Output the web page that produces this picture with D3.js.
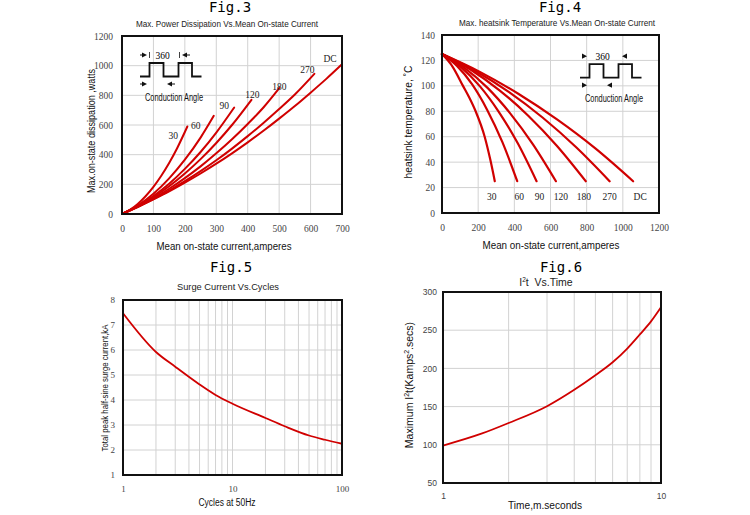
<!DOCTYPE html>
<html>
<head>
<meta charset="utf-8">
<script src="https://cdnjs.cloudflare.com/ajax/libs/d3/7.8.5/d3.min.js"></script>
<style>
  body { margin: 0; background: #fff; }
  svg { display: block; font-family: "Liberation Sans", Arial, sans-serif; }
  .grid line { stroke: #d2d2d2; stroke-width: 1; }
  .axis text { font-family: "Liberation Serif", "Times New Roman", serif; fill: #444; }
  .axis .domain { display: none; }
  .curve { fill: none; stroke: #d00000; stroke-linejoin: round; stroke-linecap: round; }
</style>
</head>
<body>
<script>
// ---- Fig.3 : power dissipation vs mean current
const fig3Angles = ["30", "60", "90", "120", "180", "270", "DC"];
const fig3Current = [
  [0, 25, 50, 75, 100, 125, 150, 175, 208],
  [0, 50, 100, 150, 200, 250, 292],
  [0, 50, 100, 150, 200, 250, 300, 357],
  [0, 50, 100, 150, 200, 250, 300, 350, 412],
  [0, 50, 100, 150, 200, 250, 300, 350, 400, 450, 501],
  [0, 50, 100, 150, 200, 250, 300, 350, 400, 450, 500, 550, 612],
  [0, 50, 100, 150, 200, 250, 300, 350, 400, 450, 500, 550, 600, 650, 700]
];
const fig3Power = [
  [0, 28, 68, 120, 183, 258, 344, 442, 590],
  [0, 57, 136, 240, 366, 515, 662],
  [0, 53, 121, 204, 304, 418, 549, 718],
  [0, 51, 113, 187, 273, 370, 479, 600, 770],
  [0, 49, 105, 170, 242, 321, 409, 504, 607, 718, 850],
  [0, 48, 100, 158, 221, 289, 362, 441, 525, 614, 708, 806, 945],
  [0, 47, 98, 152, 211, 273, 339, 409, 483, 561, 643, 728, 818, 911, 1009]
];
const fig3XTicks = [0, 100, 200, 300, 400, 500, 600, 700];
const fig3YTicks = [0, 200, 400, 600, 800, 1000, 1200];

// ---- Fig.4 : heatsink temperature vs mean current
const fig4Angles = ["30", "60", "90", "120", "180", "270", "DC"];
const fig4Current = [
  [0, 59, 116, 150, 186, 236, 267, 292],
  [0, 83, 167, 250, 334, 416],
  [0, 105, 210, 314, 419, 523],
  [0, 126, 252, 377, 503, 630],
  [0, 159, 318, 477, 636, 795],
  [0, 185, 371, 556, 742, 927],
  [0, 212, 424, 636, 848, 1057]
];
const fig4Temp = [
  [125, 115, 100, 91, 80, 60, 42, 25],
  [125, 115.7, 101.1, 81.1, 55.7, 25],
  [125, 114.8, 99.6, 79.6, 54.8, 25],
  [125, 114, 98.4, 78.4, 54, 25],
  [125, 112.7, 96.5, 76.5, 52.7, 25],
  [125, 111.7, 95.1, 75.1, 51.7, 25],
  [125, 110.8, 93.6, 73.6, 50.8, 25]
];
const fig4XTicks = [0, 200, 400, 600, 800, 1000, 1200];
const fig4YTicks = [0, 20, 40, 60, 80, 100, 120, 140];

// ---- Fig.5 : surge current vs cycles
const fig5Cycles = [1, 2, 3, 5, 7, 10, 20, 30, 50, 70, 100];
const fig5Surge = [7.47, 5.92, 5.33, 4.62, 4.2, 3.85, 3.28, 2.95, 2.58, 2.41, 2.25];
const fig5XTicks = [1, 10, 100];
const fig5YTicks = [1, 2, 3, 4, 5, 6, 7, 8];

// ---- Fig.6 : I2t vs time
const fig6Time = [1, 1.5, 2, 3, 4, 5, 6, 7, 8, 9, 10];
const fig6I2t = [99, 114.5, 128.5, 150.5, 172, 191, 208, 226, 244.5, 261.5, 280];
const fig6XTicks = [1, 10];
const fig6YTicks = [50, 100, 150, 200, 250, 300];

const W = 750, H = 515;
const svg = d3.select("body").append("svg").attr("width", W).attr("height", H);
svg.append("rect").attr("width", W).attr("height", H).attr("fill", "#fff");

function panel(box, x, y, xGrid, yGrid, xTicks, yTicks, opt) {
  const g = svg.append("g");
  // grid
  const grid = g.append("g").attr("class", "grid");
  grid.selectAll(".gx").data(xGrid).enter().append("line")
    .attr("x1", d => x(d)).attr("x2", d => x(d))
    .attr("y1", box.t).attr("y2", box.b);
  grid.selectAll(".gy").data(yGrid).enter().append("line")
    .attr("y1", d => y(d)).attr("y2", d => y(d))
    .attr("x1", box.l).attr("x2", box.r);

  g.append("g").attr("class", "axis")
    .attr("transform", "translate(0," + box.b + ")")
    .call(d3.axisBottom(x).tickValues(xTicks).tickSize(0).tickPadding(opt.xPad).tickFormat(d3.format("d")))
    .selectAll("text").style("font-size", opt.tickSize + "px").style("font-family", opt.tickFont);
  g.append("g").attr("class", "axis")
    .attr("transform", "translate(" + box.l + ",0)")
    .call(d3.axisLeft(y).tickValues(yTicks).tickSize(0).tickPadding(opt.yPad).tickFormat(d3.format("d")))
    .selectAll("text").style("font-size", opt.tickSize + "px").style("font-family", opt.tickFont);
  return g;
}

function frame(g, box) {
  g.append("rect").attr("x", box.l).attr("y", box.t)
    .attr("width", box.r - box.l).attr("height", box.b - box.t)
    .attr("fill", "none").attr("stroke", "#111").attr("stroke-width", 2);
}

function titles(cx, figY, fig, sub, subY, subLen) {
  svg.append("text").attr("x", cx).attr("y", figY).attr("text-anchor", "middle")
    .style("font-family", "'DejaVu Sans Mono', monospace").style("font-size", "14px").text(fig);
  const s = svg.append("text").attr("x", cx - 3).attr("y", subY).attr("text-anchor", "middle")
    .style("font-size", "9px").attr("fill", "#222");
  if (subLen) s.attr("textLength", subLen).attr("lengthAdjust", "spacingAndGlyphs");
  return s;
}

function xLabel(cx, yb, txt, len, size) {
  svg.append("text").attr("x", cx).attr("y", yb).attr("text-anchor", "middle")
    .style("font-size", size + "px").attr("fill", "#111")
    .attr("textLength", len).attr("lengthAdjust", "spacingAndGlyphs").text(txt);
}

function yLabel(xc, cy, len, size) {
  return svg.append("text").attr("transform", "translate(" + xc + "," + cy + ") rotate(-90)")
    .attr("text-anchor", "middle").attr("dy", "0.35em")
    .style("font-size", size + "px").attr("fill", "#111")
    .attr("textLength", len).attr("lengthAdjust", "spacingAndGlyphs");
}

function tri(g, tipX, y, dir) {
  const s = 5;
  g.append("path").attr("d", "M" + tipX + "," + y + "L" + (tipX - dir * s) + "," + (y - 2.6) + "L" + (tipX - dir * s) + "," + (y + 2.6) + "Z")
    .attr("fill", "#111");
}

function inset(x0, base, tails) {
  const g = svg.append("g");
  const e = [0, 9.5, 23.5, 38.5, 52, 61.5], h = 13.5;
  g.append("path").attr("fill", "none").attr("stroke", "#111").attr("stroke-width", 1.8)
    .attr("d", "M" + (x0 + e[0]) + "," + base + "H" + (x0 + e[1]) + "V" + (base - h) + "H" + (x0 + e[2]) + "V" + base +
      "H" + (x0 + e[3]) + "V" + (base - h) + "H" + (x0 + e[4]) + "V" + base + "H" + (x0 + e[5]));
  const ta = base - 21.5, ba = base + 7.5;
  tri(g, x0 + 7, ta, 1); tri(g, x0 + 42, ta, -1);
  tri(g, x0 + 7, ba, 1); tri(g, x0 + 27, ba, -1);
  if (tails) {
    [[x0, x0 + 3, ta], [x0 + 46, x0 + 50, ta], [x0, x0 + 3, ba], [x0 + 31, x0 + 35, ba]].forEach(l =>
      g.append("line").attr("x1", l[0]).attr("x2", l[1]).attr("y1", l[2]).attr("y2", l[2]).attr("stroke", "#111").attr("stroke-width", 1));
    [[x0 + 9.5, ta], [x0 + 39.5, ta]].forEach(l =>
      g.append("line").attr("x1", l[0]).attr("x2", l[0]).attr("y1", l[1] - 3).attr("y2", l[1] + 3).attr("stroke", "#111").attr("stroke-width", 0.8));
  }
  g.append("text").attr("x", x0 + 22.5).attr("y", ta + 3.5).attr("text-anchor", "middle")
    .style("font-family", "'Liberation Serif', serif").style("font-size", "9.5px").text("360");
  g.append("text").attr("x", x0 + 34).attr("y", base + 24).attr("text-anchor", "middle")
    .style("font-size", "10px").attr("fill", "#111").attr("textLength", 58).attr("lengthAdjust", "spacingAndGlyphs")
    .text("Conduction Angle");
}

// ================= Fig.3
{
  const box = { l: 122, r: 342, t: 36, b: 214 };
  const x = d3.scaleLinear().domain([0, 700]).range([box.l, box.r]);
  const y = d3.scaleLinear().domain([0, 1200]).range([box.b, box.t]);
  const g = panel(box, x, y, [100, 200, 300, 400, 500, 600], [200, 400, 600, 800, 1000], fig3XTicks, fig3YTicks,
    { xPad: 11, yPad: 9, tickSize: 9.5, tickFont: "'Liberation Serif', serif" });
  const line = d3.line().x(d => x(d[0])).y(d => y(d[1])).curve(d3.curveMonotoneX);
  fig3Angles.forEach((a, i) => {
    g.append("path").attr("class", "curve").attr("stroke-width", 2)
      .attr("d", line(d3.zip(fig3Current[i], fig3Power[i])));
  });
  const off = [[-14, 9], [-18, 10], [-10, -2], [1, -5], [0, -1], [-7, -4], [-12, -6]];
  fig3Angles.forEach((a, i) => {
    const n = fig3Current[i].length - 1;
    g.append("text").attr("x", x(fig3Current[i][n]) + off[i][0]).attr("y", y(fig3Power[i][n]) + off[i][1])
      .attr("text-anchor", "middle").attr("dy", "0.35em")
      .style("font-family", "'Liberation Serif', serif").style("font-size", "9.5px").attr("fill", "#222").text(a);
  });
  frame(g, box);
  inset(140, 76.5, true);
  titles(230, 12, "Fig.3", null, 26.5, 182).text("Max. Power Dissipation Vs.Mean On-state Current");
  xLabel(224, 250, "Mean on-state current,amperes", 135, 10.5);
  yLabel(91, 131, 124, 10.5).text("Max.on-state dissipation ,watts");
}

// ================= Fig.4
{
  const box = { l: 442, r: 659, t: 35, b: 213 };
  const x = d3.scaleLinear().domain([0, 1200]).range([box.l, box.r]);
  const y = d3.scaleLinear().domain([0, 140]).range([box.b, box.t]);
  const g = panel(box, x, y, [200, 400, 600, 800, 1000], [20, 40, 60, 80, 100, 120], fig4XTicks, fig4YTicks,
    { xPad: 11, yPad: 7, tickSize: 9.5, tickFont: "'Liberation Serif', serif" });
  const line = d3.line().x(d => x(d[0])).y(d => y(d[1])).curve(d3.curveMonotoneX);
  fig4Angles.forEach((a, i) => {
    g.append("path").attr("class", "curve").attr("stroke-width", 2.2)
      .attr("d", line(d3.zip(fig4Current[i], fig4Temp[i])));
  });
  const dx = [-3, 2, 3, 5, -2, 0, 7];
  fig4Angles.forEach((a, i) => {
    const n = fig4Current[i].length - 1;
    g.append("text").attr("x", x(fig4Current[i][n]) + dx[i]).attr("y", 200)
      .attr("text-anchor", "middle")
      .style("font-family", "'Liberation Serif', serif").style("font-size", "9.5px").attr("fill", "#222").text(a);
  });
  frame(g, box);
  inset(580, 77.7, false);
  titles(560, 12, "Fig.4", null, 26, 196).text("Max. heatsink Temperature Vs.Mean On-state Current");
  xLabel(551, 249, "Mean on-state current,amperes", 137, 10.5);
  yLabel(408, 122, 113, 10.5).text("heatsink temperature, \u02DAC");
}

// ================= Fig.5
{
  const box = { l: 123, r: 342, t: 300, b: 475 };
  const x = d3.scaleLog().domain([1, 100]).range([box.l, box.r]);
  const y = d3.scaleLinear().domain([1, 8]).range([box.b, box.t]);
  const g = panel(box, x, y, [2, 3, 4, 5, 6, 7, 8, 9, 10, 20, 30, 40, 50, 60, 70, 80, 90], [2, 3, 4, 5, 6, 7], fig5XTicks, fig5YTicks,
    { xPad: 11, yPad: 8, tickSize: 9, tickFont: "'Liberation Serif', serif" });
  const line = d3.line().x(d => x(d[0])).y(d => y(d[1])).curve(d3.curveMonotoneX);
  g.append("path").attr("class", "curve").attr("stroke-width", 1.8)
    .attr("d", line(d3.zip(fig5Cycles, fig5Surge)));
  frame(g, box);
  titles(231, 271.5, "Fig.5", null, 289.5, 102).text("Surge Current Vs.Cycles");
  xLabel(227, 506, "Cycles at 50Hz", 57, 10);
  yLabel(105, 388, 127, 8.5).text("Total peak half-sine surge current,kA");
}

// ================= Fig.6
{
  const box = { l: 443, r: 661, t: 292, b: 483 };
  const x = d3.scaleLog().domain([1, 10]).range([box.l, box.r]);
  const y = d3.scaleLinear().domain([50, 300]).range([box.b, box.t]);
  const g = panel(box, x, y, [2, 3, 4, 5, 6, 7, 8, 9], [100, 150, 200, 250], fig6XTicks, fig6YTicks,
    { xPad: 10, yPad: 6, tickSize: 8.5, tickFont: "'Liberation Sans', Arial, sans-serif" });
  const line = d3.line().x(d => x(d[0])).y(d => y(d[1])).curve(d3.curveMonotoneX);
  g.append("path").attr("class", "curve").attr("stroke-width", 1.8)
    .attr("d", line(d3.zip(fig6Time, fig6I2t)));
  frame(g, box);
  svg.append("text").attr("x", 561).attr("y", 271.5).attr("text-anchor", "middle")
    .style("font-family", "'DejaVu Sans Mono', monospace").style("font-size", "14px").text("Fig.6");
  const st = svg.append("text").attr("x", 546).attr("y", 285.5).attr("text-anchor", "middle")
    .style("font-size", "10.5px").attr("fill", "#222").attr("xml:space", "preserve");
  st.append("tspan").text("I");
  st.append("tspan").attr("dy", -3.5).style("font-size", "6.5px").text("2");
  st.append("tspan").attr("dy", 3.5).text("t\u00A0\u00A0Vs.Time");
  xLabel(545, 509, "Time,m.seconds", 74, 10.5);
  const yl = svg.append("text").attr("transform", "translate(413,385) rotate(-90)")
    .attr("text-anchor", "middle").style("font-size", "10.5px").attr("fill", "#111");
  yl.append("tspan").text("Maximum I");
  yl.append("tspan").attr("dy", -4).style("font-size", "7px").text("2");
  yl.append("tspan").attr("dy", 4).text("t(Kamps");
  yl.append("tspan").attr("dy", -4).style("font-size", "7px").text("2");
  yl.append("tspan").attr("dy", 4).text(".secs)");
}
</script>
</body>
</html>
